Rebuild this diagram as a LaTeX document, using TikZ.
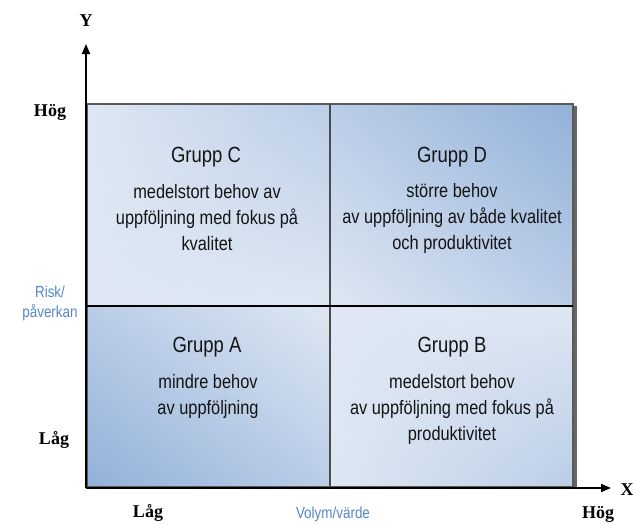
\documentclass[tikz,border=0pt]{standalone}
\usepackage{fontspec}
\setmainfont{Liberation Serif}
\newfontfamily\qfont[FakeStretch=0.84]{Liberation Sans}
\usetikzlibrary{arrows.meta,shadings}
\definecolor{qlight}{RGB}{222,231,243}
\definecolor{qmid}{RGB}{186,205,231}
\definecolor{qdark}{RGB}{146,177,217}
\definecolor{lblblue}{RGB}{84,135,200}
\definecolor{txt}{RGB}{20,20,20}
\tikzset{
  qtitle/.style={font=\qfont\fontsize{22}{24}\selectfont, text=txt, inner sep=0pt},
  qbody/.style={font=\qfont\fontsize{19.5}{26}\selectfont, text=txt, align=center, inner sep=0pt},
  axlabel/.style={font=\bfseries\fontsize{18}{20}\selectfont, text=black, inner sep=0pt},
  bluelabel/.style={font=\qfont\fontsize{16}{20}\selectfont, text=lblblue, align=center, inner sep=0pt},
  axis/.style={black, line width=1.8pt, -{Triangle[length=10pt,width=8pt]}},
}
\begin{document}
\begin{tikzpicture}[x=1pt,y=-1pt]
\useasboundingbox (0,0) rectangle (633,525);
% quadrant shadings
\shade[upper left=qlight, lower left=qlight, upper right=qmid, lower right=qlight] (87,104) rectangle (330,306);
\shade[upper left=qmid, lower left=qlight, upper right=qdark, lower right=qmid] (330,104) rectangle (573,306);
\shade[upper left=qmid, lower left=qdark, upper right=qlight, lower right=qmid] (87,306) rectangle (330,487);
\shade[upper left=qlight, lower left=qlight, upper right=qlight, lower right=qmid] (330,306) rectangle (573,487);
% shadow and border
\draw[gray!80!black, line width=3pt] (575,106) -- (575,487);
\draw[gray!70!black, line width=1.6pt] (87,104) rectangle (573,487);
\draw[gray!60!black, line width=1.6pt] (330,104) -- (330,487);
\draw[black, line width=1.6pt] (87,306) -- (573,306);
% axes
\coordinate (O) at (86,488);
\coordinate (Yend) at (86,44);
\coordinate (Xend) at (611,488);
\draw[axis] (O) -- (Yend);
\draw[axis] (O) -- (Xend);
\node[axlabel] (ylab) at (86,21) {Y};
\node[axlabel] (xlab) at (627,490) {X};
\node[axlabel] (yhog) at (50,112) {Hög};
\node[axlabel] (ylag) at (54,440) {Låg};
\node[axlabel] (xlag) at (148,513) {Låg};
\node[axlabel] (xhog) at (598,514) {Hög};
\node[bluelabel] (risk) at (50,303) {Risk/\\påverkan};
\node[bluelabel] (vol) at (333,514) {Volym/värde};
% quadrant texts
\node[qtitle] (ct) at (206,157) {Grupp C};
\node[qbody] (cb) at (207,218) {medelstort behov av\\uppföljning med fokus på\\kvalitet};
\node[qtitle] (dt) at (452,157) {Grupp D};
\node[qbody] (db) at (452,218) {större behov\\av uppföljning av både kvalitet\\och produktivitet};
\node[qtitle] (at) at (207,347) {Grupp A};
\node[qbody] (ab) at (208,396) {mindre behov\\av uppföljning};
\node[qtitle] (bt) at (452,347) {Grupp B};
\node[qbody] (bb) at (452,409) {medelstort behov\\av uppföljning med fokus på\\produktivitet};
\end{tikzpicture}
\end{document}
